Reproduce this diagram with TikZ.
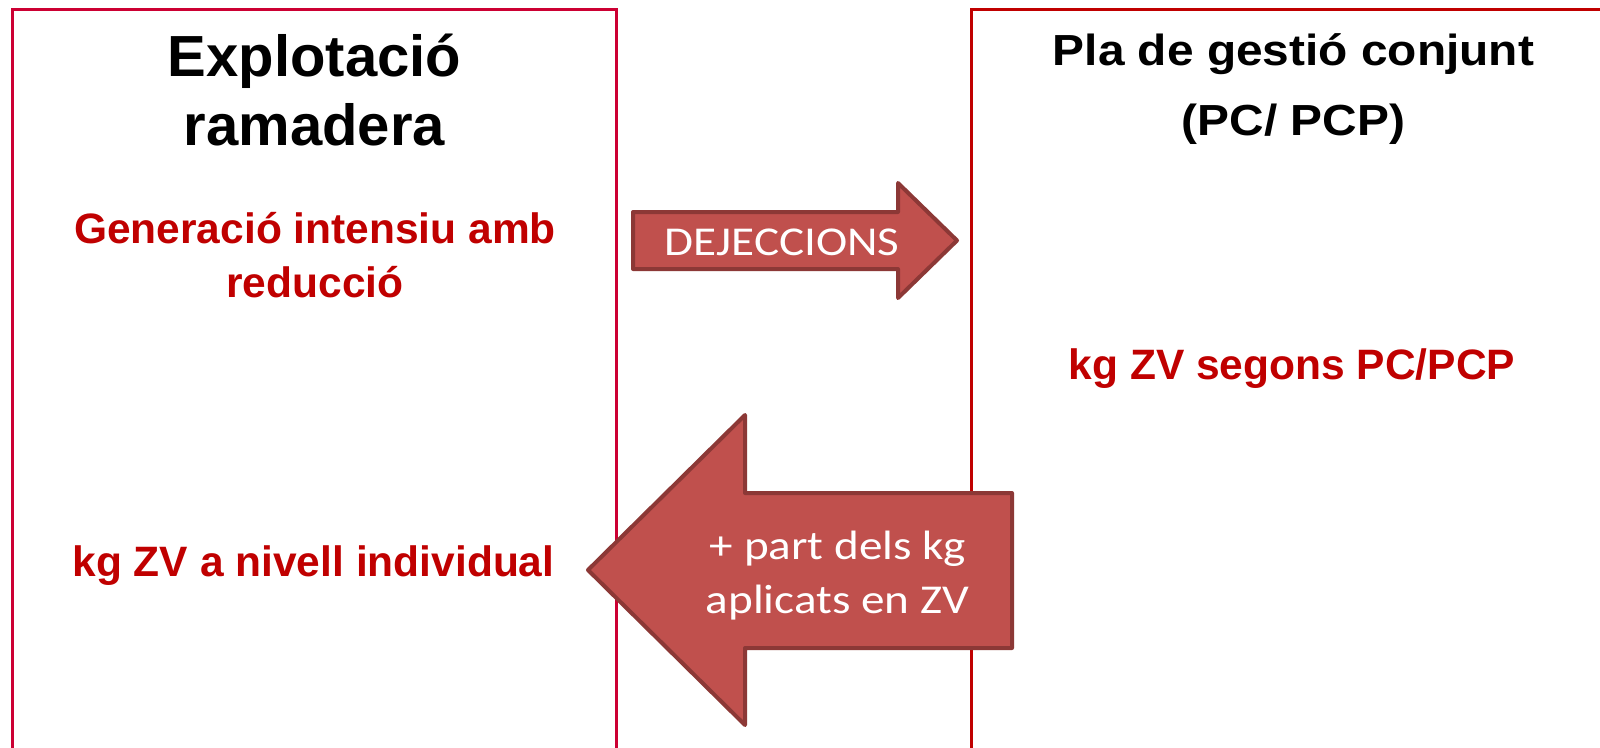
\documentclass[tikz,border=0pt]{standalone}
\usepackage{fontspec}
\setmainfont{Liberation Sans}
\newfontfamily\hdfont[FakeStretch=1.1]{Liberation Sans}
\newfontfamily\arrowfont[FakeStretch=1.15]{Carlito}
\definecolor{boxL}{HTML}{CC0033}
\definecolor{boxR}{HTML}{C00000}
\definecolor{txtred}{HTML}{C00000}
\definecolor{arrfill}{HTML}{C0504D}
\definecolor{arrline}{HTML}{8C3836}
\tikzset{
  panel/.style={line width=3pt},
  bigarrow/.style={fill=arrfill, draw=arrline, line width=4pt, line join=round},
  lbl/.style={inner sep=0pt, anchor=base},
  headL/.style={lbl, font=\bfseries\fontsize{58}{64}\selectfont},
  headR/.style={lbl, font=\hdfont\bfseries\fontsize{43.5}{48}\selectfont},
  redtxt/.style={lbl, text=txtred, font=\bfseries\fontsize{42.5}{48}\selectfont},
  arrtxt/.style={lbl, text=white, font=\arrowfont\fontsize{41}{46}\selectfont},
}
\begin{document}
\begin{tikzpicture}[x=1pt,y=-1pt]
\useasboundingbox (0,0) rectangle (1600,747);
\clip (0,0) rectangle (1600,747);
\fill[white] (0,0) rectangle (1600,747);
% panels
\draw[panel, draw=boxL] (12,780) -- (12,9.5) -- (616,9.5) -- (616,780);
\draw[panel, draw=boxR] (1620,9) -- (971,9) -- (971,780);
% headings
\node[headL] (hl1) at (314.5,76) {Explotació};
\node[headL] (hl2) at (314.5,145) {ramadera};
\node[headR] (hr1) at (1293.5,65) {Pla de gestió conjunt};
\node[headR] (hr2) at (1293.5,135) {(PC/ PCP)};
% red texts
\node[redtxt] (g1) at (315,243) {Generació intensiu amb};
\node[redtxt] (g2) at (315,297) {reducció};
\node[redtxt] (kl) at (313.5,576.5) {kg ZV a nivell individual};
\node[redtxt] (kr) at (1292,379.5) {kg ZV segons PC/PCP};
% arrows
\path[bigarrow] (633,212) -- (898,212) -- (898,183) -- (957,240.5) -- (898,298) -- (898,269) -- (633,269) -- cycle;
\node[arrtxt] (dej) at (782,255) {DEJECCIONS};
\path[bigarrow] (588,570) -- (745,415) -- (745,493) -- (1012,493) -- (1012,648) -- (745,648) -- (745,725) -- cycle;
\node[arrtxt] (a1) at (838,559) {+ part dels kg};
\node[arrtxt] (a2) at (837.5,613) {aplicats en ZV};
\end{tikzpicture}
\end{document}
